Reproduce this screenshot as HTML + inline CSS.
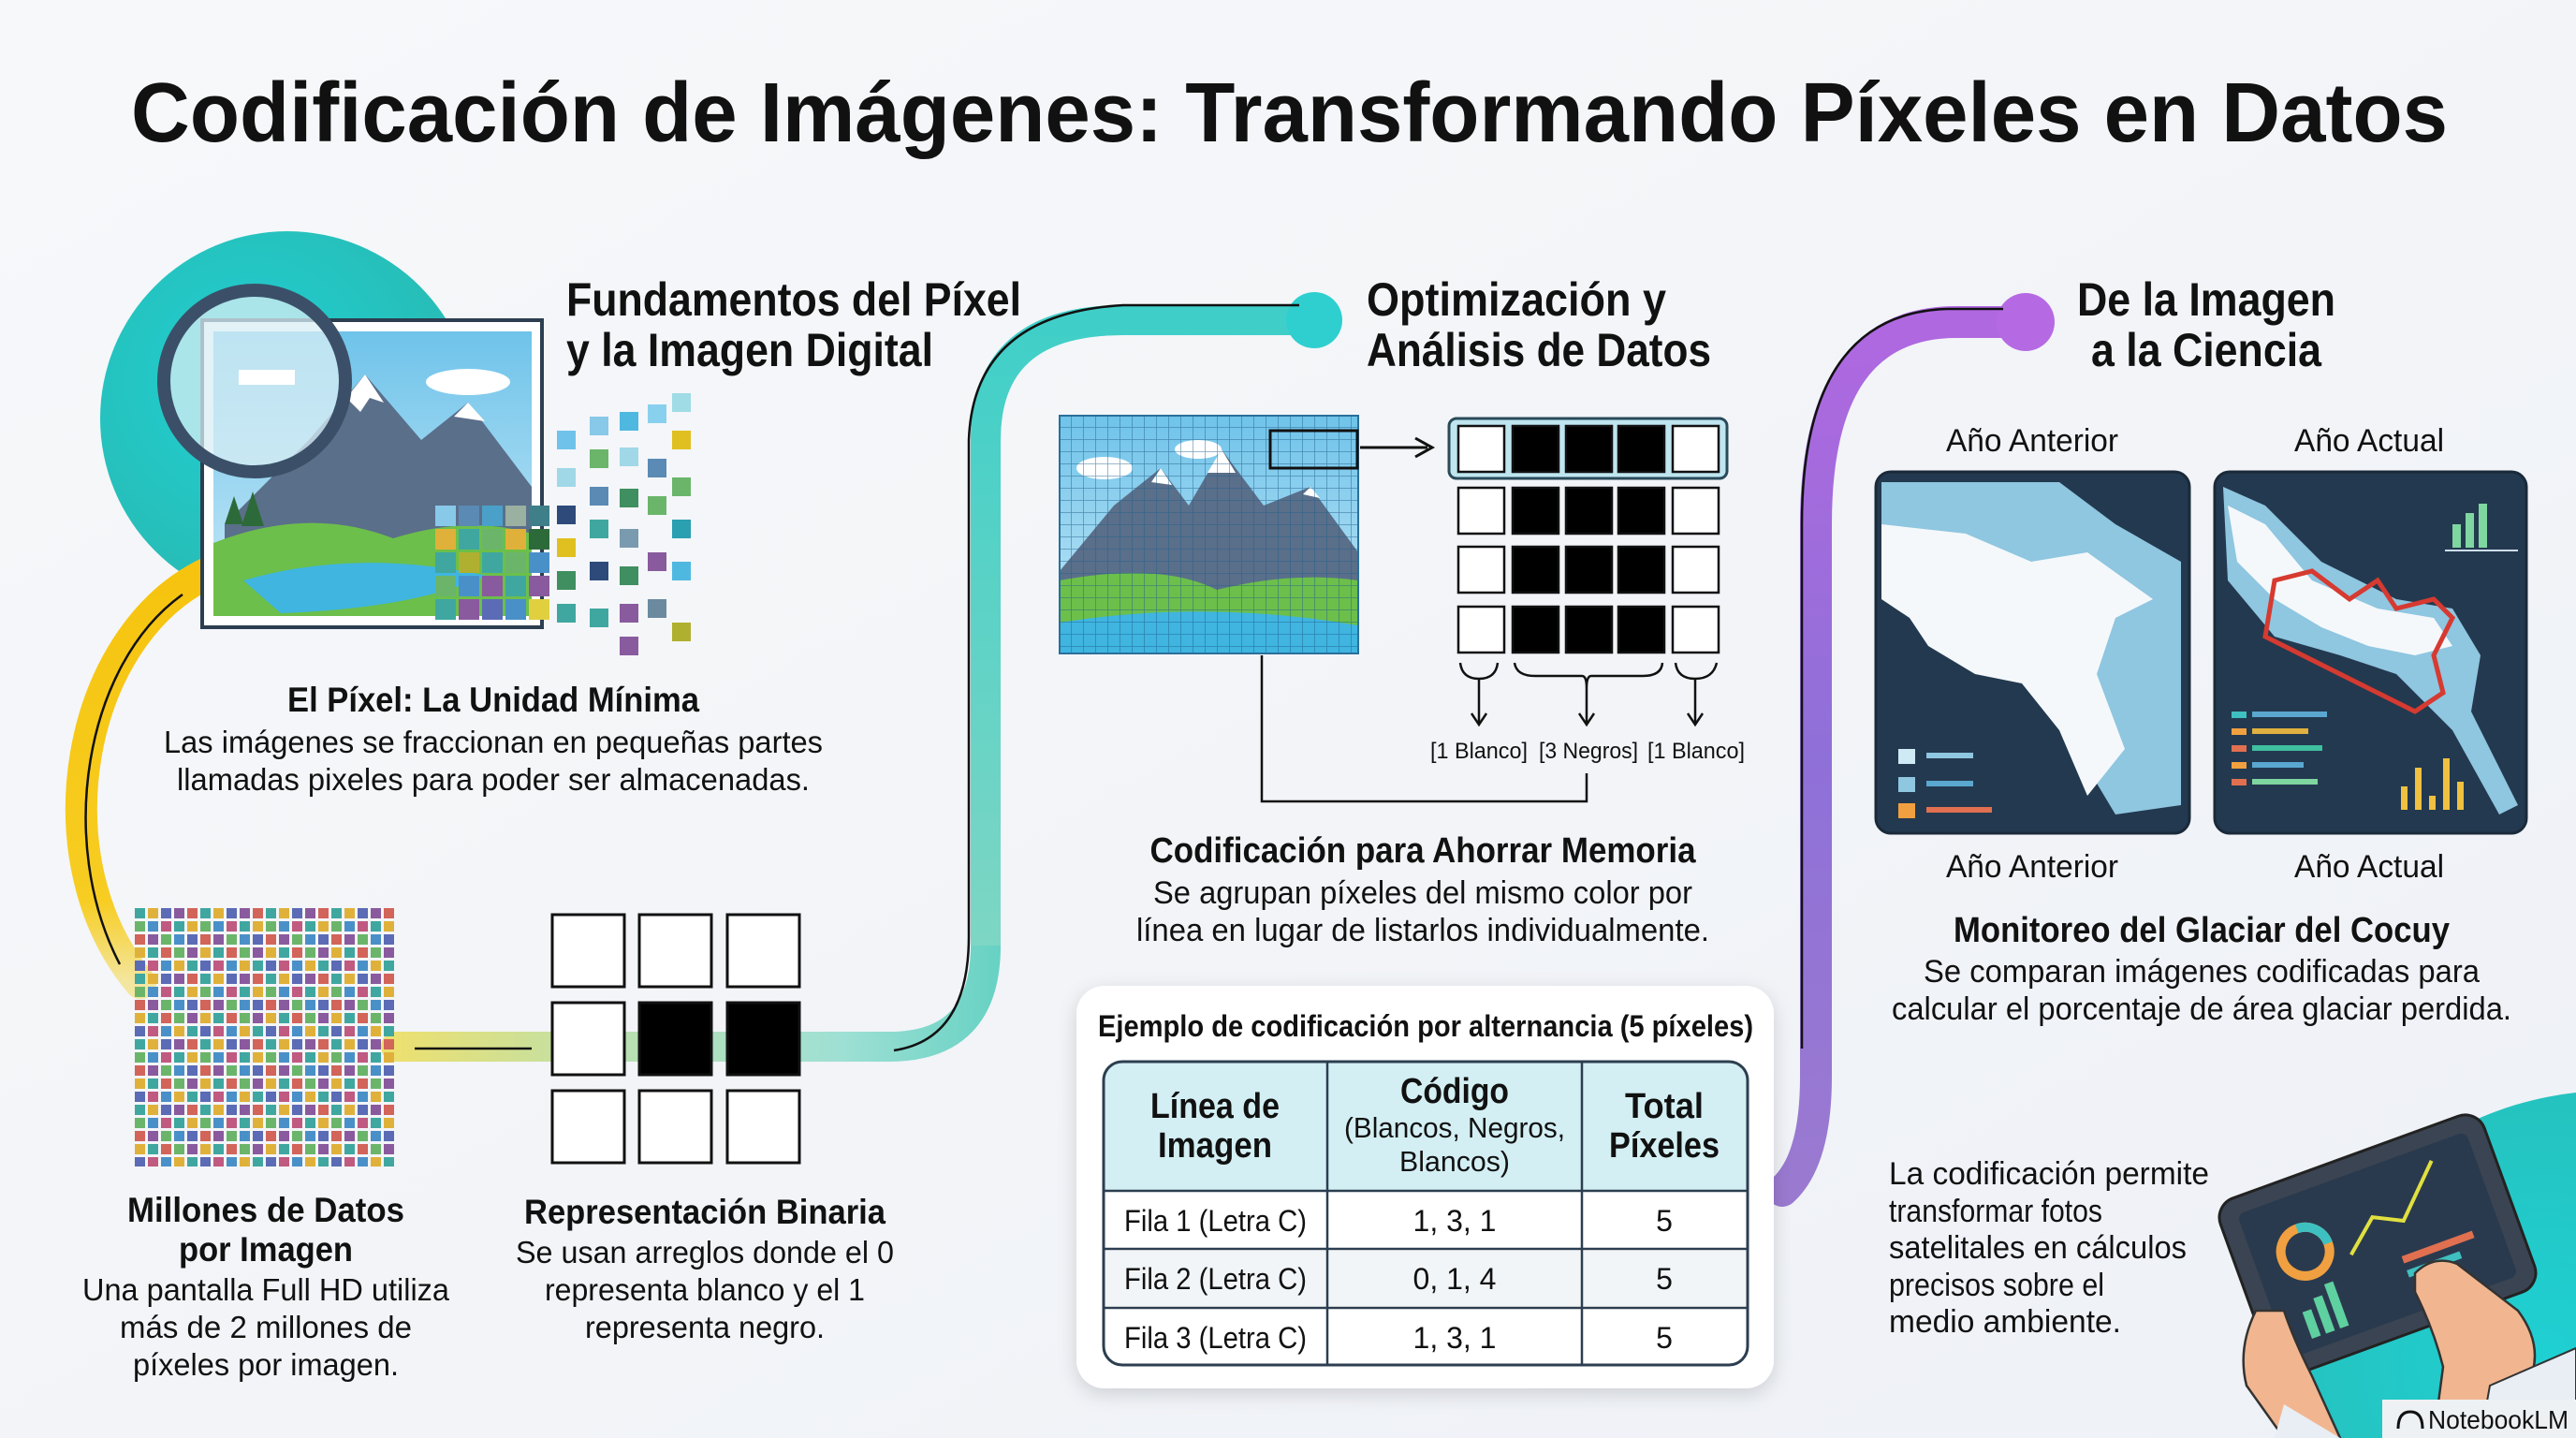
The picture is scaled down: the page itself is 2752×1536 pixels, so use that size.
<!DOCTYPE html>
<html><head><meta charset="utf-8"><style>
html,body{margin:0;padding:0;background:#f3f5f8;width:2752px;height:1536px;overflow:hidden;}
svg{display:block}
text{font-family:"Liberation Sans",Arial,sans-serif;fill:#111}
.b{font-weight:bold}
</style></head><body>
<svg width="2752" height="1536" viewBox="0 0 2752 1536" xmlns="http://www.w3.org/2000/svg">
<defs>
<linearGradient id="bg" x1="0" y1="0" x2="1" y2="1"><stop offset="0" stop-color="#f7f8fa"/><stop offset="1" stop-color="#eef1f6"/></linearGradient>
<radialGradient id="tc" cx="0.4" cy="0.4" r="0.7"><stop offset="0" stop-color="#1fd0d3"/><stop offset="1" stop-color="#2ab8b0"/></radialGradient>
<linearGradient id="yel" x1="0" y1="0" x2="0" y2="1"><stop offset="0" stop-color="#f6c40f"/><stop offset="0.8" stop-color="#f7cd22"/><stop offset="1" stop-color="#f3e6a0"/></linearGradient>
<linearGradient id="teal" gradientUnits="userSpaceOnUse" x1="423" y1="0" x2="1100" y2="0"><stop offset="0" stop-color="#ece070"/><stop offset="0.35" stop-color="#b9e0b0"/><stop offset="0.7" stop-color="#9fe0d4"/><stop offset="1" stop-color="#5ccfc0"/></linearGradient>
<linearGradient id="teal2" x1="0" y1="1" x2="0" y2="0"><stop offset="0" stop-color="#7ed6c4"/><stop offset="1" stop-color="#3fcfc8"/></linearGradient>
<linearGradient id="pur" x1="0" y1="0" x2="0" y2="1"><stop offset="0" stop-color="#b068e0"/><stop offset="0.5" stop-color="#8f70d8"/><stop offset="1" stop-color="#9a7ad0"/></linearGradient>
<linearGradient id="sky" x1="0" y1="0" x2="0" y2="1"><stop offset="0" stop-color="#6fc3ea"/><stop offset="1" stop-color="#c7e9f7"/></linearGradient>
<pattern id="cg" width="70" height="70" patternUnits="userSpaceOnUse" x="144" y="970">
<rect x="0" y="0" width="11" height="11" fill="#3fa7a0"/><rect x="14" y="0" width="11" height="11" fill="#e0b13a"/><rect x="28" y="0" width="11" height="11" fill="#5b6bb5"/><rect x="42" y="0" width="11" height="11" fill="#8a5a9e"/><rect x="56" y="0" width="11" height="11" fill="#d2645a"/>
<rect x="0" y="14" width="11" height="11" fill="#6bb56b"/><rect x="14" y="14" width="11" height="11" fill="#4a90c8"/><rect x="28" y="14" width="11" height="11" fill="#c05a80"/><rect x="42" y="14" width="11" height="11" fill="#3fa7a0"/><rect x="56" y="14" width="11" height="11" fill="#e0b13a"/>
<rect x="0" y="28" width="11" height="11" fill="#d2645a"/><rect x="14" y="28" width="11" height="11" fill="#8a5a9e"/><rect x="28" y="28" width="11" height="11" fill="#6bb56b"/><rect x="42" y="28" width="11" height="11" fill="#4a90c8"/><rect x="56" y="28" width="11" height="11" fill="#5b6bb5"/>
<rect x="0" y="42" width="11" height="11" fill="#e0b13a"/><rect x="14" y="42" width="11" height="11" fill="#3fa7a0"/><rect x="28" y="42" width="11" height="11" fill="#d2645a"/><rect x="42" y="42" width="11" height="11" fill="#6bb56b"/><rect x="56" y="42" width="11" height="11" fill="#8a5a9e"/>
<rect x="0" y="56" width="11" height="11" fill="#5b6bb5"/><rect x="14" y="56" width="11" height="11" fill="#c05a80"/><rect x="28" y="56" width="11" height="11" fill="#4a90c8"/><rect x="42" y="56" width="11" height="11" fill="#e0b13a"/><rect x="56" y="56" width="11" height="11" fill="#3fa7a0"/>
</pattern>
<pattern id="gl" width="13" height="13" patternUnits="userSpaceOnUse" x="1132" y="444"><path d="M13 0V13H0" fill="none" stroke="#1f5f8a" stroke-width="1.5" opacity="0.6"/></pattern>
<filter id="sh" x="-10%" y="-10%" width="120%" height="120%"><feDropShadow dx="0" dy="6" stdDeviation="10" flood-color="#000" flood-opacity="0.15"/></filter>
<clipPath id="page"><rect width="2752" height="1536"/></clipPath>
</defs>
<g clip-path="url(#page)">
<rect width="2752" height="1536" fill="url(#bg)"/>

<text x="140" y="151" class="b" font-size="90" textLength="2475" lengthAdjust="spacingAndGlyphs">Codificación de Imágenes: Transformando Píxeles en Datos</text>

<circle cx="307" cy="447" r="200" fill="url(#tc)"/>

<path d="M222 612 C80 680 40 920 150 1050" fill="none" stroke="url(#yel)" stroke-width="34" stroke-linecap="round"/>
<path d="M195 635 C90 710 60 900 128 1030" fill="none" stroke="#111" stroke-width="2.5"/>

<path d="M423 1118 L950 1118 Q1053 1118 1053 1010 L1053 470 Q1053 342 1200 342 L1404 342" fill="none" stroke="url(#teal)" stroke-width="32" stroke-linecap="round"/>
<path d="M1053 1010 L1053 470 Q1053 342 1200 342 L1404 342" fill="none" stroke="url(#teal2)" stroke-width="32"/>
<circle cx="1404" cy="342" r="30" fill="#2fcfcf"/>
<path d="M955 1122 Q1035 1110 1035 1000 L1035 470 Q1040 335 1200 326 L1388 326" fill="none" stroke="#111" stroke-width="2.5"/>
<line x1="443" y1="1120" x2="568" y2="1120" stroke="#111" stroke-width="2.5"/>

<path d="M2164 344 L2090 344 Q1940 344 1940 560 L1940 1150 Q1940 1240 1904 1272" fill="none" stroke="url(#pur)" stroke-width="34" stroke-linecap="round"/>
<circle cx="2164" cy="344" r="31" fill="#b56ae3"/>
<path d="M2140 330 L2080 330 Q1925 335 1925 560 L1925 1120" fill="none" stroke="#111" stroke-width="2.5"/>

<rect x="216" y="342" width="363" height="328" fill="#fff" stroke="#2c3e50" stroke-width="4"/>
<rect x="228" y="354" width="340" height="304" fill="url(#sky)"/>
<ellipse cx="500" cy="408" rx="45" ry="14" fill="#fff"/>
<polygon points="240,560 330,470 390,400 450,470 500,430 568,520 568,600 240,600" fill="#5a6f8a"/>
<polygon points="370,425 390,400 410,430 395,425 385,440" fill="#fff"/>
<polygon points="485,445 500,430 518,450" fill="#fff"/>
<path d="M228 580 Q330 540 420 575 Q500 550 568 570 L568 658 L228 658Z" fill="#6cbf4a"/>
<path d="M260 620 Q380 585 520 615 Q440 650 300 655Z" fill="#3fb5e0"/>
<polygon points="240,560 250,530 260,560" fill="#2d6a3a"/><polygon points="258,562 270,525 282,562" fill="#2d6a3a"/>
<circle cx="272" cy="407" r="97" fill="#d8eef4" fill-opacity="0.75" stroke="#3b5068" stroke-width="14"/>
<rect x="255" y="395" width="60" height="16" fill="#fff"/>
<g>
<rect x="465" y="540" width="22" height="22" fill="#88c8e8"/><rect x="490" y="540" width="22" height="22" fill="#5b8ab5"/><rect x="515" y="540" width="22" height="22" fill="#4aa0c8"/><rect x="540" y="540" width="22" height="22" fill="#9ab0a0"/><rect x="565" y="540" width="22" height="22" fill="#3f7f8a"/>
<rect x="465" y="565" width="22" height="22" fill="#e0b13a"/><rect x="490" y="565" width="22" height="22" fill="#3fa7a0"/><rect x="515" y="565" width="22" height="22" fill="#6bb56b"/><rect x="540" y="565" width="22" height="22" fill="#e0b13a"/><rect x="565" y="565" width="22" height="22" fill="#2d6a3a"/>
<rect x="465" y="590" width="22" height="22" fill="#3fa7a0"/><rect x="490" y="590" width="22" height="22" fill="#b0b030"/><rect x="515" y="590" width="22" height="22" fill="#3fa7a0"/><rect x="540" y="590" width="22" height="22" fill="#6bb56b"/><rect x="565" y="590" width="22" height="22" fill="#4a90c8"/>
<rect x="465" y="615" width="22" height="22" fill="#6bb56b"/><rect x="490" y="615" width="22" height="22" fill="#4a90c8"/><rect x="515" y="615" width="22" height="22" fill="#8a5a9e"/><rect x="540" y="615" width="22" height="22" fill="#3fa7a0"/><rect x="565" y="615" width="22" height="22" fill="#8a5a9e"/>
<rect x="465" y="640" width="22" height="22" fill="#3fa7a0"/><rect x="490" y="640" width="22" height="22" fill="#8a5a9e"/><rect x="515" y="640" width="22" height="22" fill="#5b6bb5"/><rect x="540" y="640" width="22" height="22" fill="#4a90c8"/><rect x="565" y="640" width="22" height="22" fill="#e0d040"/>
<rect x="595" y="460" width="20" height="20" fill="#6fc3ea"/><rect x="595" y="500" width="20" height="20" fill="#a0d8e8"/><rect x="595" y="540" width="20" height="20" fill="#2d4a7a"/><rect x="595" y="575" width="20" height="20" fill="#e0c020"/><rect x="595" y="610" width="20" height="20" fill="#3f8f60"/><rect x="595" y="645" width="20" height="20" fill="#3fa7a0"/>
<rect x="630" y="445" width="20" height="20" fill="#88c8e8"/><rect x="630" y="480" width="20" height="20" fill="#6bb56b"/><rect x="630" y="520" width="20" height="20" fill="#5b8ab5"/><rect x="630" y="555" width="20" height="20" fill="#3fa7a0"/><rect x="630" y="600" width="20" height="20" fill="#2d4a7a"/><rect x="630" y="650" width="20" height="20" fill="#3fa7a0"/>
<rect x="662" y="440" width="20" height="20" fill="#4fb8e0"/><rect x="662" y="478" width="20" height="20" fill="#a0d8e8"/><rect x="662" y="522" width="20" height="20" fill="#3f8f60"/><rect x="662" y="565" width="20" height="20" fill="#7a9ab0"/><rect x="662" y="605" width="20" height="20" fill="#3f8f60"/><rect x="662" y="645" width="20" height="20" fill="#8a5a9e"/><rect x="662" y="680" width="20" height="20" fill="#8a5a9e"/>
<rect x="692" y="432" width="20" height="20" fill="#88d0ee"/><rect x="692" y="490" width="20" height="20" fill="#5b8ab5"/><rect x="692" y="530" width="20" height="20" fill="#6bb56b"/><rect x="692" y="590" width="20" height="20" fill="#8a5a9e"/><rect x="692" y="640" width="20" height="20" fill="#6b8aa0"/>
<rect x="718" y="420" width="20" height="20" fill="#a0dce6"/><rect x="718" y="460" width="20" height="20" fill="#e0c020"/><rect x="718" y="510" width="20" height="20" fill="#6bb56b"/><rect x="718" y="555" width="20" height="20" fill="#2aa0b0"/><rect x="718" y="600" width="20" height="20" fill="#4fb8e0"/><rect x="718" y="665" width="20" height="20" fill="#b0b030"/>
</g>

<text x="605" y="337" class="b" font-size="50" textLength="486" lengthAdjust="spacingAndGlyphs">Fundamentos del Píxel</text>
<text x="605" y="391" class="b" font-size="50" textLength="392" lengthAdjust="spacingAndGlyphs">y la Imagen Digital</text>

<text x="527" y="760" class="b" font-size="37" text-anchor="middle" textLength="440" lengthAdjust="spacingAndGlyphs">El Píxel: La Unidad Mínima</text>
<text x="527" y="804" font-size="33" text-anchor="middle" textLength="704" lengthAdjust="spacingAndGlyphs">Las imágenes se fraccionan en pequeñas partes</text>
<text x="527" y="844" font-size="33" text-anchor="middle" textLength="676" lengthAdjust="spacingAndGlyphs">llamadas pixeles para poder ser almacenadas.</text>

<rect x="144" y="970" width="280" height="276" fill="url(#cg)"/>

<g fill="#fff" stroke="#111" stroke-width="3">
<rect x="590" y="977" width="77" height="77"/><rect x="683" y="977" width="77" height="77"/><rect x="777" y="977" width="77" height="77"/>
<rect x="590" y="1071" width="77" height="77"/><rect x="683" y="1071" width="77" height="77" fill="#000"/><rect x="777" y="1071" width="77" height="77" fill="#000"/>
<rect x="590" y="1165" width="77" height="77"/><rect x="683" y="1165" width="77" height="77"/><rect x="777" y="1165" width="77" height="77"/>
</g>

<text x="284" y="1305" class="b" font-size="37" text-anchor="middle" textLength="296" lengthAdjust="spacingAndGlyphs">Millones de Datos</text>
<text x="284" y="1347" class="b" font-size="37" text-anchor="middle" textLength="186" lengthAdjust="spacingAndGlyphs">por Imagen</text>
<text x="284" y="1389" font-size="33" text-anchor="middle" textLength="392" lengthAdjust="spacingAndGlyphs">Una pantalla Full HD utiliza</text>
<text x="284" y="1429" font-size="33" text-anchor="middle" textLength="312" lengthAdjust="spacingAndGlyphs">más de 2 millones de</text>
<text x="284" y="1469" font-size="33" text-anchor="middle" textLength="284" lengthAdjust="spacingAndGlyphs">píxeles por imagen.</text>

<text x="753" y="1307" class="b" font-size="37" text-anchor="middle" textLength="386" lengthAdjust="spacingAndGlyphs">Representación Binaria</text>
<text x="753" y="1349" font-size="33" text-anchor="middle" textLength="404" lengthAdjust="spacingAndGlyphs">Se usan arreglos donde el 0</text>
<text x="753" y="1389" font-size="33" text-anchor="middle" textLength="342" lengthAdjust="spacingAndGlyphs">representa blanco y el 1</text>
<text x="753" y="1429" font-size="33" text-anchor="middle" textLength="256" lengthAdjust="spacingAndGlyphs">representa negro.</text>

<text x="1460" y="337" class="b" font-size="50" textLength="320" lengthAdjust="spacingAndGlyphs">Optimización y</text>
<text x="1460" y="391" class="b" font-size="50" textLength="368" lengthAdjust="spacingAndGlyphs">Análisis de Datos</text>

<rect x="1132" y="444" width="319" height="254" fill="url(#sky)"/>
<ellipse cx="1180" cy="500" rx="30" ry="12" fill="#fff"/><ellipse cx="1280" cy="480" rx="25" ry="10" fill="#fff"/>
<polygon points="1132,610 1190,540 1240,500 1270,540 1305,480 1350,540 1400,520 1451,590 1451,640 1132,640" fill="#5a6f8a"/>
<polygon points="1290,505 1305,480 1320,505" fill="#fff"/><polygon points="1230,515 1240,500 1252,518" fill="#fff"/><polygon points="1392,528 1400,520 1410,532" fill="#fff"/>
<path d="M1132 620 Q1240 600 1300 630 Q1380 610 1451 620 L1451 698 L1132 698Z" fill="#6cbf4a"/>
<path d="M1132 665 Q1290 640 1451 668 L1451 698 L1132 698Z" fill="#3fb5e0"/>
<rect x="1132" y="444" width="319" height="254" fill="url(#gl)" stroke="#2a6f9a" stroke-width="2"/>
<rect x="1357" y="460" width="93" height="40" fill="none" stroke="#111" stroke-width="3"/>
<line x1="1453" y1="478" x2="1525" y2="478" stroke="#111" stroke-width="3"/>
<path d="M1512 468 L1530 478 L1512 488" fill="none" stroke="#111" stroke-width="3"/>

<rect x="1548" y="447" width="297" height="64" rx="8" fill="#bfe6f0" stroke="#2a4a5a" stroke-width="3"/>
<g stroke="#111" stroke-width="2.5">
<rect x="1558" y="455" width="49" height="49" fill="#fff"/><rect x="1616" y="455" width="49" height="49" fill="#000"/><rect x="1673" y="455" width="49" height="49" fill="#000"/><rect x="1729" y="455" width="49" height="49" fill="#000"/><rect x="1787" y="455" width="49" height="49" fill="#fff"/>
<rect x="1558" y="521" width="49" height="49" fill="#fff"/><rect x="1616" y="521" width="49" height="49" fill="#000"/><rect x="1673" y="521" width="49" height="49" fill="#000"/><rect x="1729" y="521" width="49" height="49" fill="#000"/><rect x="1787" y="521" width="49" height="49" fill="#fff"/>
<rect x="1558" y="584" width="49" height="49" fill="#fff"/><rect x="1616" y="584" width="49" height="49" fill="#000"/><rect x="1673" y="584" width="49" height="49" fill="#000"/><rect x="1729" y="584" width="49" height="49" fill="#000"/><rect x="1787" y="584" width="49" height="49" fill="#fff"/>
<rect x="1558" y="648" width="49" height="49" fill="#fff"/><rect x="1616" y="648" width="49" height="49" fill="#000"/><rect x="1673" y="648" width="49" height="49" fill="#000"/><rect x="1729" y="648" width="49" height="49" fill="#000"/><rect x="1787" y="648" width="49" height="49" fill="#fff"/>
</g>
<g fill="none" stroke="#111" stroke-width="2.5">
<path d="M1560 708 Q1562 725 1580 725 Q1598 725 1600 708"/><line x1="1580" y1="725" x2="1580" y2="772"/><path d="M1572 762 L1580 774 L1588 762"/>
<path d="M1618 708 Q1620 722 1640 722 L1690 722 Q1695 722 1695 735 Q1695 722 1700 722 L1755 722 Q1775 722 1776 708"/><line x1="1695" y1="735" x2="1695" y2="772"/><path d="M1687 762 L1695 774 L1703 762"/>
<path d="M1790 708 Q1792 725 1811 725 Q1830 725 1834 708"/><line x1="1811" y1="725" x2="1811" y2="772"/><path d="M1803 762 L1811 774 L1819 762"/>
<path d="M1348 700 L1348 856 L1695 856 L1695 826"/>
</g>
<text x="1580" y="810" font-size="24" text-anchor="middle" textLength="104" lengthAdjust="spacingAndGlyphs">[1 Blanco]</text>
<text x="1697" y="810" font-size="24" text-anchor="middle" textLength="106" lengthAdjust="spacingAndGlyphs">[3 Negros]</text>
<text x="1812" y="810" font-size="24" text-anchor="middle" textLength="104" lengthAdjust="spacingAndGlyphs">[1 Blanco]</text>

<text x="1520" y="921" class="b" font-size="38" text-anchor="middle" textLength="583" lengthAdjust="spacingAndGlyphs">Codificación para Ahorrar Memoria</text>
<text x="1520" y="965" font-size="34" text-anchor="middle" textLength="576" lengthAdjust="spacingAndGlyphs">Se agrupan píxeles del mismo color por</text>
<text x="1520" y="1005" font-size="34" text-anchor="middle" textLength="612" lengthAdjust="spacingAndGlyphs">línea en lugar de listarlos individualmente.</text>

<rect x="1150" y="1053" width="745" height="430" rx="30" fill="#fff" filter="url(#sh)"/>
<text x="1173" y="1107" class="b" font-size="32" textLength="700" lengthAdjust="spacingAndGlyphs">Ejemplo de codificación por alternancia (5 píxeles)</text>
<path d="M1199 1134 H1847 Q1867 1134 1867 1154 V1272 H1179 V1154 Q1179 1134 1199 1134Z" fill="#d3eff3"/>
<rect x="1179" y="1134" width="688" height="324" rx="20" fill="none" stroke="#2c3e50" stroke-width="3"/>
<g stroke="#2c3e50" stroke-width="2.5">
<line x1="1179" y1="1272" x2="1867" y2="1272"/><line x1="1179" y1="1334" x2="1867" y2="1334"/><line x1="1179" y1="1397" x2="1867" y2="1397"/>
<line x1="1418" y1="1134" x2="1418" y2="1458"/><line x1="1690" y1="1134" x2="1690" y2="1458"/>
</g>
<rect x="1181" y="1336" width="684" height="59" fill="#f2f5f8"/>
<line x1="1418" y1="1336" x2="1418" y2="1395" stroke="#2c3e50" stroke-width="2.5"/><line x1="1690" y1="1336" x2="1690" y2="1395" stroke="#2c3e50" stroke-width="2.5"/>
<text x="1298" y="1194" class="b" font-size="38" text-anchor="middle" textLength="138" lengthAdjust="spacingAndGlyphs">Línea de</text>
<text x="1298" y="1236" class="b" font-size="38" text-anchor="middle" textLength="122" lengthAdjust="spacingAndGlyphs">Imagen</text>
<text x="1554" y="1178" class="b" font-size="38" text-anchor="middle" textLength="116" lengthAdjust="spacingAndGlyphs">Código</text>
<text x="1554" y="1215" font-size="31" text-anchor="middle" textLength="236" lengthAdjust="spacingAndGlyphs">(Blancos, Negros,</text>
<text x="1554" y="1251" font-size="31" text-anchor="middle" textLength="118" lengthAdjust="spacingAndGlyphs">Blancos)</text>
<text x="1778" y="1194" class="b" font-size="38" text-anchor="middle" textLength="84" lengthAdjust="spacingAndGlyphs">Total</text>
<text x="1778" y="1236" class="b" font-size="38" text-anchor="middle" textLength="118" lengthAdjust="spacingAndGlyphs">Píxeles</text>
<g font-size="32">
<text x="1201" y="1315" textLength="195" lengthAdjust="spacingAndGlyphs">Fila 1 (Letra C)</text>
<text x="1201" y="1377" textLength="195" lengthAdjust="spacingAndGlyphs">Fila 2 (Letra C)</text>
<text x="1201" y="1440" textLength="195" lengthAdjust="spacingAndGlyphs">Fila 3 (Letra C)</text>
<text x="1554" y="1315" text-anchor="middle">1, 3, 1</text>
<text x="1554" y="1377" text-anchor="middle">0, 1, 4</text>
<text x="1554" y="1440" text-anchor="middle">1, 3, 1</text>
<text x="1778" y="1315" text-anchor="middle">5</text>
<text x="1778" y="1377" text-anchor="middle">5</text>
<text x="1778" y="1440" text-anchor="middle">5</text>
</g>

<text x="2357" y="337" class="b" font-size="50" text-anchor="middle" textLength="276" lengthAdjust="spacingAndGlyphs">De la Imagen</text>
<text x="2357" y="391" class="b" font-size="50" text-anchor="middle" textLength="246" lengthAdjust="spacingAndGlyphs">a la Ciencia</text>

<text x="2171" y="482" font-size="34" text-anchor="middle" textLength="184" lengthAdjust="spacingAndGlyphs">Año Anterior</text>
<text x="2531" y="482" font-size="34" text-anchor="middle" textLength="160" lengthAdjust="spacingAndGlyphs">Año Actual</text>
<text x="2171" y="937" font-size="34" text-anchor="middle" textLength="184" lengthAdjust="spacingAndGlyphs">Año Anterior</text>
<text x="2531" y="937" font-size="34" text-anchor="middle" textLength="160" lengthAdjust="spacingAndGlyphs">Año Actual</text>

<rect x="2004" y="504" width="335" height="386" rx="16" fill="#23394f" stroke="#1a2a3a" stroke-width="3"/>
<path d="M2010 515 L2200 515 L2260 560 L2330 600 L2330 860 L2260 870 L2230 820 L2200 760 L2150 720 L2110 690 L2080 650 L2030 640 L2010 600Z" fill="#8fc6e0"/>
<path d="M2010 560 L2100 570 L2170 600 L2230 590 L2300 640 L2260 660 L2240 720 L2270 800 L2230 850 L2200 780 L2160 730 L2110 720 L2060 690 L2040 660 L2010 640Z" fill="#f4f8fb"/>
<rect x="2028" y="800" width="18" height="16" fill="#cfe9f5"/><rect x="2058" y="804" width="50" height="6" fill="#8fc6e0"/>
<rect x="2028" y="830" width="18" height="16" fill="#8fc6e0"/><rect x="2058" y="834" width="50" height="6" fill="#5aa8d0"/>
<rect x="2028" y="858" width="18" height="16" fill="#f0a040"/><rect x="2058" y="862" width="70" height="6" fill="#e07050"/>
<rect x="2366" y="504" width="333" height="386" rx="16" fill="#23394f" stroke="#1a2a3a" stroke-width="3"/>
<path d="M2375 520 L2420 540 L2480 600 L2560 640 L2620 650 L2650 700 L2640 760 L2690 860 L2670 870 L2620 780 L2560 720 L2500 700 L2430 680 L2380 620Z" fill="#8fc6e0"/>
<path d="M2380 540 L2420 560 L2470 620 L2540 650 L2600 660 L2620 690 L2580 700 L2530 690 L2480 670 L2430 640 L2390 600Z" fill="#f4f8fb"/>
<path d="M2430 620 L2470 610 L2510 640 L2540 620 L2560 650 L2600 640 L2620 660 L2600 700 L2610 740 L2580 760 L2540 740 L2500 720 L2460 700 L2420 680Z" fill="none" stroke="#d63a30" stroke-width="5"/>
<g fill="#7fd6a0"><rect x="2620" y="560" width="9" height="25"/><rect x="2634" y="548" width="9" height="37"/><rect x="2648" y="538" width="9" height="47"/></g>
<line x1="2612" y1="588" x2="2690" y2="588" stroke="#cde" stroke-width="2"/>
<g><rect x="2384" y="760" width="16" height="7" fill="#3fc0c0"/><rect x="2406" y="760" width="80" height="6" fill="#5aa8d0"/>
<rect x="2384" y="778" width="16" height="7" fill="#f0a040"/><rect x="2406" y="778" width="60" height="6" fill="#e0b040"/>
<rect x="2384" y="796" width="16" height="7" fill="#e07050"/><rect x="2406" y="796" width="75" height="6" fill="#3fc0a0"/>
<rect x="2384" y="814" width="16" height="7" fill="#f0a040"/><rect x="2406" y="814" width="55" height="6" fill="#5aa8d0"/>
<rect x="2384" y="832" width="16" height="7" fill="#e07050"/><rect x="2406" y="832" width="70" height="6" fill="#7fd6a0"/></g>
<g fill="#f0c040"><rect x="2565" y="840" width="7" height="25"/><rect x="2580" y="820" width="7" height="45"/><rect x="2595" y="850" width="7" height="15"/><rect x="2610" y="810" width="7" height="55"/><rect x="2625" y="835" width="7" height="30"/></g>

<text x="2352" y="1006" class="b" font-size="38" text-anchor="middle" textLength="530" lengthAdjust="spacingAndGlyphs">Monitoreo del Glaciar del Cocuy</text>
<text x="2352" y="1049" font-size="34" text-anchor="middle" textLength="594" lengthAdjust="spacingAndGlyphs">Se comparan imágenes codificadas para</text>
<text x="2352" y="1089" font-size="34" text-anchor="middle" textLength="662" lengthAdjust="spacingAndGlyphs">calcular el porcentaje de área glaciar perdida.</text>

<circle cx="2790" cy="1520" r="355" fill="url(#tc)"/>
<g font-size="34">
<text x="2018" y="1265" textLength="342" lengthAdjust="spacingAndGlyphs">La codificación permite</text>
<text x="2018" y="1305" textLength="228" lengthAdjust="spacingAndGlyphs">transformar fotos</text>
<text x="2018" y="1344" textLength="318" lengthAdjust="spacingAndGlyphs">satelitales en cálculos</text>
<text x="2018" y="1384" textLength="230" lengthAdjust="spacingAndGlyphs">precisos sobre el</text>
<text x="2018" y="1423" textLength="248" lengthAdjust="spacingAndGlyphs">medio ambiente.</text>
</g>
<g transform="rotate(-20 2540 1330)">
<rect x="2390" y="1230" width="300" height="200" rx="22" fill="#3b4452" stroke="#222" stroke-width="3"/>
<rect x="2410" y="1248" width="260" height="164" rx="8" fill="#2a3a4e"/>
<circle cx="2465" cy="1310" r="26" fill="none" stroke="#f0a040" stroke-width="10"/>
<path d="M2465 1284 A26 26 0 0 1 2491 1310" fill="none" stroke="#3fc0c0" stroke-width="10"/>
<path d="M2510 1330 L2545 1300 L2575 1315 L2625 1265" fill="none" stroke="#e0e040" stroke-width="4"/>
<g fill="#5fd0a0"><rect x="2440" y="1370" width="10" height="30"/><rect x="2456" y="1360" width="10" height="40"/><rect x="2472" y="1350" width="10" height="50"/></g>
<rect x="2560" y="1350" width="80" height="8" fill="#e07050"/><rect x="2560" y="1366" width="60" height="8" fill="#3fc0c0"/>
</g>
<path d="M2410 1400 Q2390 1440 2400 1480 L2440 1536 L2500 1536 L2470 1470 Q2450 1430 2440 1400Z" fill="#f1b690" stroke="#333" stroke-width="2.5"/>
<path d="M2580 1360 Q2600 1340 2625 1350 L2690 1400 Q2720 1440 2700 1480 L2660 1536 L2600 1536 L2610 1460 Q2600 1420 2580 1380Z" fill="#f1b690" stroke="#333" stroke-width="2.5"/>
<path d="M2440 1500 L2500 1536 L2430 1536Z" fill="#e8eef4"/>
<path d="M2660 1480 L2752 1440 L2752 1536 L2650 1536Z" fill="#e8eef4" stroke="#333" stroke-width="2"/>

<rect x="2545" y="1495" width="207" height="41" fill="#eef1f4"/>
<path d="M2562 1526 Q2562 1508 2575 1508 Q2588 1508 2588 1526" fill="none" stroke="#111" stroke-width="3"/>
<text x="2594" y="1526" font-size="28" textLength="150" lengthAdjust="spacingAndGlyphs">NotebookLM</text>
</g>
</svg>
</body></html>
